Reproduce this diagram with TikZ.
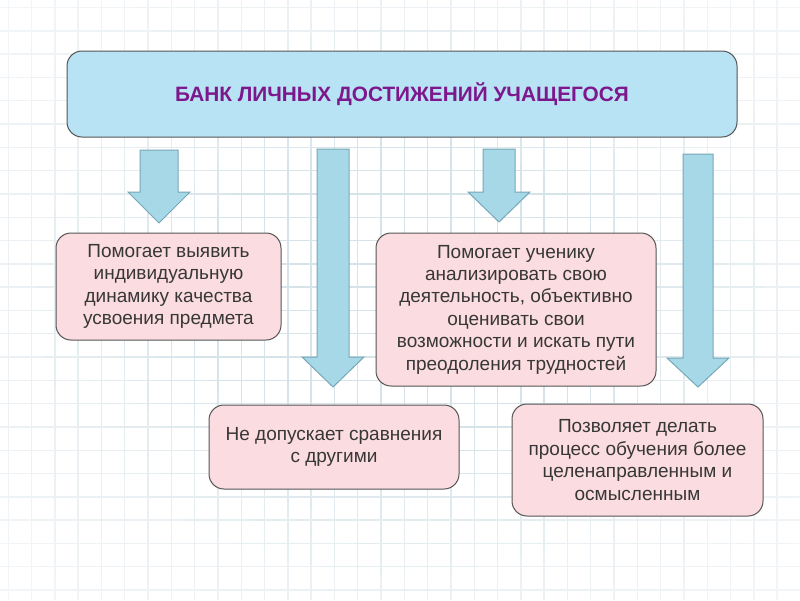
\documentclass[tikz,border=0pt]{standalone}
\usepackage{fontspec}
\setmainfont{Liberation Sans}
\usepackage{xcolor}
\usepackage{tikz}
\usetikzlibrary{positioning}
\definecolor{gridline}{RGB}{214,228,233}
\definecolor{bankfill}{RGB}{184,227,244}
\definecolor{arrowfill}{RGB}{166,216,232}
\definecolor{arrowedge}{RGB}{120,168,184}
\definecolor{pinkfill}{RGB}{251,220,224}
\definecolor{boxedge}{RGB}{85,85,85}
\definecolor{titleviolet}{RGB}{125,24,140}
\definecolor{bodytext}{RGB}{55,55,55}

\begin{document}
\begin{tikzpicture}[x=1pt, y=-1pt,
  bankbox/.style={rectangle, rounded corners=15pt, draw=boxedge, fill=bankfill,
    line width=1pt, minimum width=670pt, minimum height=86pt,
    font=\fontsize{20.8}{25}\selectfont\bfseries, text=titleviolet},
  infobox/.style={rectangle, rounded corners=15pt, draw=boxedge, fill=pinkfill,
    line width=1pt, align=center, inner sep=0pt,
    font=\fontsize{19}{22.4}\selectfont, text=bodytext},
  blockarrow/.style={fill=arrowfill, draw=arrowedge, line width=1pt, line join=miter},
]
  \useasboundingbox (0,0) rectangle (800,600);

  % === GRID PAPER ===
  \fill[white] (0,0) rectangle (800,600);
  \foreach \i in {0,...,34} {
    \draw[gridline, line width=1.4pt] (8.2+23.3*\i,0) -- (8.2+23.3*\i,600);
  }
  \foreach \j in {0,...,25} {
    \draw[gridline, line width=1.4pt] (0,7.5+23.3*\j) -- (800,7.5+23.3*\j);
  }
  % fade towards the corners
  \foreach \s in {0.55,0.64,...,1.45} {
    \fill[white, opacity=0.14, even odd rule]
      (0,0) rectangle (800,600) (400,300) ellipse [x radius=400*\s, y radius=300*\s];
  }

  % === TOP BOX ===
  \node[bankbox] (bank) at (402,94) {БАНК ЛИЧНЫХ ДОСТИЖЕНИЙ УЧАЩЕГОСЯ};

  % Block arrows (centre / shaft half width / top / head base / tip)
  \foreach \cx/\hw/\ytop/\yhead/\ytip in {159/19/150/192/223, 333/16/149/357/387,
      499/16/149/192/222, 698/15/154/358/387} {
    \draw[blockarrow] (\cx-\hw,\ytop) -- (\cx+\hw,\ytop) -- (\cx+\hw,\yhead)
      -- (\cx+31,\yhead) -- (\cx,\ytip) -- (\cx-31,\yhead)
      -- (\cx-\hw,\yhead) -- cycle;
  }

  % === PINK BOXES ===
  \node[infobox, minimum width=225pt, minimum height=107pt] (dynamic) at (168.5,286.5)
    {Помогает выявить\\индивидуальную\\динамику качества\\усвоения предмета};
  \node[infobox, minimum width=280pt, minimum height=153pt] (analyse) at (516,309.5)
    {Помогает ученику\\анализировать свою\\деятельность, объективно\\оценивать свои\\возможности и искать пути\\преодоления трудностей};
  \node[infobox, minimum width=250pt, minimum height=84pt] (compare) at (334,447)
    {Не допускает сравнения\\с другими};
  \node[infobox, minimum width=251pt, minimum height=112pt] (purpose) at (637.5,460)
    {Позволяет делать\\процесс обучения более\\целенаправленным и\\осмысленным};
\end{tikzpicture}
\end{document}
